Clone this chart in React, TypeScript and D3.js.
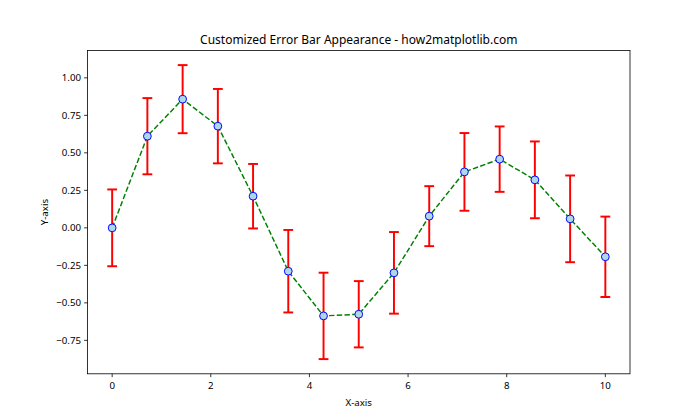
import React from "react";
import * as d3 from "d3";

const xValues = [0, 0.714, 1.429, 2.143, 2.857, 3.571, 4.286, 5.0, 5.714, 6.429, 7.143, 7.857, 8.571, 9.286, 10];
const yValues = [0.0, 0.611, 0.858, 0.678, 0.211, -0.289, -0.587, -0.576, -0.3, 0.078, 0.373, 0.458, 0.32, 0.06, -0.193];
const yErrors = [0.256, 0.254, 0.227, 0.248, 0.215, 0.275, 0.288, 0.221, 0.272, 0.2, 0.259, 0.218, 0.256, 0.289, 0.268];
const xTicks = [0, 2, 4, 6, 8, 10];
const yTicks = [-0.75, -0.5, -0.25, 0, 0.25, 0.5, 0.75, 1.0];
const title = "Customized Error Bar Appearance - how2matplotlib.com";
const xLabel = "X-axis";
const yLabel = "Y-axis";

const W = 700, H = 420;
const L = 87.5, R = 630, T = 50.4, B = 373.8;
const FONT = "'Noto Sans', 'Open Sans', sans-serif";

export default function App() {
  const xmin = d3.min(xValues)!, xmax = d3.max(xValues)!;
  const lo = d3.min(yValues.map((v, i) => v - yErrors[i]))!;
  const hi = d3.max(yValues.map((v, i) => v + yErrors[i]))!;
  const xm = (xmax - xmin) * 0.05, ym = (hi - lo) * 0.05;
  const x = d3.scaleLinear().domain([xmin - xm, xmax + xm]).range([L, R]);
  const y = d3.scaleLinear().domain([lo - ym, hi + ym]).range([B, T]);
  const pts = xValues.map((xv, i) => [xv, yValues[i]] as [number, number]);
  const line = d3.line<[number, number]>().x(d => x(d[0])).y(d => y(d[1]));
  const fmt = (v: number) => (v < 0 ? "\u2212" : "") + Math.abs(v).toFixed(2);
  const cap = 4.9;

  return (
    <svg width={W} height={H} style={{ position: "absolute", left: 0, top: 0 }}>
      <rect x={0} y={0} width={W} height={H} fill="#fff" />
      <text x={(L + R) / 2} y={T - 6} textAnchor="middle" fontFamily={FONT} fontSize={12} fill="#000">{title}</text>
      {pts.map((p, i) => (
        <g key={"e" + i} stroke="red" strokeWidth={1.95}>
          <line x1={x(p[0])} x2={x(p[0])} y1={y(p[1] - yErrors[i])} y2={y(p[1] + yErrors[i])} />
          <line x1={x(p[0]) - cap} x2={x(p[0]) + cap} y1={y(p[1] - yErrors[i])} y2={y(p[1] - yErrors[i])} />
          <line x1={x(p[0]) - cap} x2={x(p[0]) + cap} y1={y(p[1] + yErrors[i])} y2={y(p[1] + yErrors[i])} />
        </g>
      ))}
      <path d={line(pts)!} fill="none" stroke="green" strokeWidth={1.46} strokeDasharray="5.4,2.33" />
      {pts.map((p, i) => (
        <circle key={"c" + i} cx={x(p[0])} cy={y(p[1])} r={3.9} fill="#add8e6" stroke="blue" strokeWidth={0.97} />
      ))}
      <rect x={L} y={T} width={R - L} height={B - T} fill="none" stroke="#000" strokeWidth={0.8} />
      {xTicks.map(t => (
        <g key={"x" + t}>
          <line x1={x(t)} x2={x(t)} y1={B} y2={B + 3.4} stroke="#000" strokeWidth={0.8} />
          <text x={x(t)} y={B + 15.2} textAnchor="middle" fontFamily={FONT} fontSize={9.7} fill="#000">{t}</text>
        </g>
      ))}
      {yTicks.map(t => (
        <g key={"y" + t}>
          <line x1={L - 3.4} x2={L} y1={y(t)} y2={y(t)} stroke="#000" strokeWidth={0.8} />
          <text x={L - 6.5} y={y(t) + 3.4} textAnchor="end" fontFamily={FONT} fontSize={9.7} fill="#000">{fmt(t)}</text>
        </g>
      ))}
      <text x={(L + R) / 2} y={405.5} textAnchor="middle" fontFamily={FONT} fontSize={9.7} fill="#000">{xLabel}</text>
      <text transform={`translate(48,${(T + B) / 2}) rotate(-90)`} textAnchor="middle" fontFamily={FONT} fontSize={9.7} fill="#000">{yLabel}</text>
    </svg>
  );
}
